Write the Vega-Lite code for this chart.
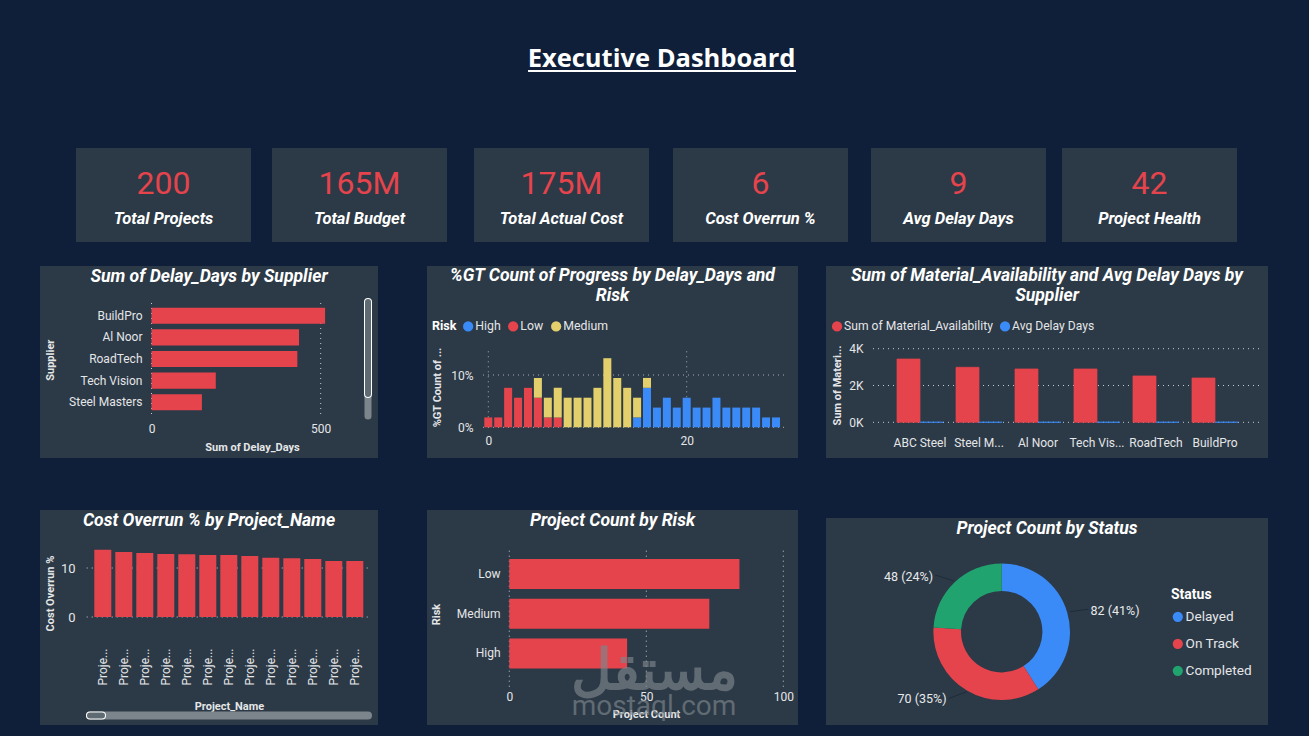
{
  "$schema": "https://vega.github.io/schema/vega-lite/v6.json",
  "background": "#0f1f3a",
  "padding": 0,
  "spacing": 0,
  "resolve": {"scale": {"color": "independent", "stroke": "independent"}},
  "config": {
    "view": {"stroke": null},
    "font": "Roboto",
    "title": {"color": "#ffffff", "font": "Roboto", "fontSize": 17.6, "fontWeight": "bold", "fontStyle": "italic", "anchor": "middle", "frame": "group", "lineHeight": 20},
    "axis": {"domain": false, "ticks": false, "grid": false, "labelColor": "#e4e6e8", "labelFont": "Roboto", "labelFontSize": 12, "labelFlush": false, "labelOverlap": false, "labelBound": false, "labelLimit": 200, "titleColor": "#e4e6e8", "titleFont": "Roboto", "titleFontSize": 11, "titleFontWeight": "bold", "titleBaseline": "middle", "titleAlign": "center", "titleLimit": 200},
    "legend": {"labelColor": "#e4e6e8", "labelFont": "Roboto", "labelFontSize": 12.3, "labelLimit": 300, "titleColor": "#ffffff", "titleFont": "Roboto", "titleFontSize": 12.5, "titleFontWeight": "bold", "symbolType": "circle", "symbolSize": 105, "symbolStrokeWidth": 0, "labelOffset": 1, "columnPadding": 6}
  },
  "vconcat": [
    {
      "width": 1309,
      "height": 148,
      "data": {"values": [{"Heading": "Executive Dashboard"}]},
      "layer": [
        {
          "mark": {"type": "text", "font": "Open Sans", "fontSize": 25.5, "fontWeight": "bold", "color": "#ffffff", "dx": 7, "dy": -15},
          "encoding": {"text": {"field": "Heading"}}
        },
        {
          "mark": {"type": "rule", "color": "#ffffff", "strokeWidth": 2},
          "encoding": {
            "x": {"datum": 0.4034, "scale": {"domain": [0, 1], "range": [0, 1309]}, "axis": null},
            "x2": {"datum": 0.6081},
            "y": {"datum": 0, "scale": {"domain": [0, 1], "range": [71, 71]}, "axis": null}
          }
        }
      ],
      "resolve": {"scale": {"x": "independent", "y": "independent"}}
    },
    {
      "spacing": 0,
      "hconcat": [
        {"width": 76, "height": 94, "data": {"values": [{"s": 1}]}, "mark": {"type": "point", "opacity": 0}},
        {
          "width": 175, "height": 94, "view": {"fill": "#2c3946"},
          "data": {"values": [{"Metric": "Total Projects", "Display": "200"}]},
          "layer": [
            {"mark": {"type": "text", "fontSize": 32, "color": "#e5444c", "dy": -11}, "encoding": {"text": {"field": "Display"}}},
            {"mark": {"type": "text", "fontSize": 16.5, "color": "#ffffff", "dy": 24, "fontWeight": "bold", "fontStyle": "italic"}, "encoding": {"text": {"field": "Metric"}}}
          ]
        },
        {"width": 21, "height": 94, "data": {"values": [{"s": 1}]}, "mark": {"type": "point", "opacity": 0}},
        {
          "width": 175, "height": 94, "view": {"fill": "#2c3946"},
          "data": {"values": [{"Metric": "Total Budget", "Display": "165M"}]},
          "layer": [
            {"mark": {"type": "text", "fontSize": 32, "color": "#e5444c", "dy": -11}, "encoding": {"text": {"field": "Display"}}},
            {"mark": {"type": "text", "fontSize": 16.5, "color": "#ffffff", "dy": 24, "fontWeight": "bold", "fontStyle": "italic"}, "encoding": {"text": {"field": "Metric"}}}
          ]
        },
        {"width": 27, "height": 94, "data": {"values": [{"s": 1}]}, "mark": {"type": "point", "opacity": 0}},
        {
          "width": 175, "height": 94, "view": {"fill": "#2c3946"},
          "data": {"values": [{"Metric": "Total Actual Cost", "Display": "175M"}]},
          "layer": [
            {"mark": {"type": "text", "fontSize": 32, "color": "#e5444c", "dy": -11}, "encoding": {"text": {"field": "Display"}}},
            {"mark": {"type": "text", "fontSize": 16.5, "color": "#ffffff", "dy": 24, "fontWeight": "bold", "fontStyle": "italic"}, "encoding": {"text": {"field": "Metric"}}}
          ]
        },
        {"width": 24, "height": 94, "data": {"values": [{"s": 1}]}, "mark": {"type": "point", "opacity": 0}},
        {
          "width": 175, "height": 94, "view": {"fill": "#2c3946"},
          "data": {"values": [{"Metric": "Cost Overrun %", "Display": "6"}]},
          "layer": [
            {"mark": {"type": "text", "fontSize": 32, "color": "#e5444c", "dy": -11}, "encoding": {"text": {"field": "Display"}}},
            {"mark": {"type": "text", "fontSize": 16.5, "color": "#ffffff", "dy": 24, "fontWeight": "bold", "fontStyle": "italic"}, "encoding": {"text": {"field": "Metric"}}}
          ]
        },
        {"width": 23, "height": 94, "data": {"values": [{"s": 1}]}, "mark": {"type": "point", "opacity": 0}},
        {
          "width": 175, "height": 94, "view": {"fill": "#2c3946"},
          "data": {"values": [{"Metric": "Avg Delay Days", "Display": "9"}]},
          "layer": [
            {"mark": {"type": "text", "fontSize": 32, "color": "#e5444c", "dy": -11}, "encoding": {"text": {"field": "Display"}}},
            {"mark": {"type": "text", "fontSize": 16.5, "color": "#ffffff", "dy": 24, "fontWeight": "bold", "fontStyle": "italic"}, "encoding": {"text": {"field": "Metric"}}}
          ]
        },
        {"width": 16, "height": 94, "data": {"values": [{"s": 1}]}, "mark": {"type": "point", "opacity": 0}},
        {
          "width": 175, "height": 94, "view": {"fill": "#2c3946"},
          "data": {"values": [{"Metric": "Project Health", "Display": "42"}]},
          "layer": [
            {"mark": {"type": "text", "fontSize": 32, "color": "#e5444c", "dy": -11}, "encoding": {"text": {"field": "Display"}}},
            {"mark": {"type": "text", "fontSize": 16.5, "color": "#ffffff", "dy": 24, "fontWeight": "bold", "fontStyle": "italic"}, "encoding": {"text": {"field": "Metric"}}}
          ]
        }
      ]
    },
    {"width": 10, "height": 24, "data": {"values": [{"s": 1}]}, "mark": {"type": "point", "opacity": 0}},
    {
      "spacing": 0,
      "resolve": {"scale": {"color": "independent", "stroke": "independent"}},
      "hconcat": [
        {"width": 40, "height": 192, "data": {"values": [{"s": 1}]}, "mark": {"type": "point", "opacity": 0}},
        {
          "width": 338, "height": 192, "view": {"fill": "#2c3946"},
          "title": {"text": "Sum of Delay_Days by Supplier", "offset": -20},
          "layer": [
            {
              "data": {"values": [{"tick": 0}, {"tick": 500}]},
              "mark": {"type": "rule", "color": "#c8ccd0", "strokeDash": [1, 4]},
              "encoding": {
                "x": {"field": "tick", "type": "quantitative", "scale": {"domain": [0, 500], "range": [111.5, 280.7], "nice": false}, "axis": null},
                "y": {"datum": 0, "scale": {"domain": [0, 1], "range": [148, 34]}, "axis": null},
                "y2": {"datum": 1}
              }
            },
            {
              "data": {"values": [
                {"Supplier": "BuildPro", "Delay_Days": 513},
                {"Supplier": "Al Noor", "Delay_Days": 436},
                {"Supplier": "RoadTech", "Delay_Days": 431},
                {"Supplier": "Tech Vision", "Delay_Days": 190},
                {"Supplier": "Steel Masters", "Delay_Days": 149}
              ]},
              "mark": {"type": "bar", "color": "#e5444c"},
              "encoding": {
                "x": {"field": "Delay_Days", "type": "quantitative", "scale": {"domain": [0, 500], "range": [111.5, 280.7], "nice": false},
                  "axis": {"values": [0, 500], "offset": -44, "labelPadding": 9, "title": "Sum of Delay_Days", "titleX": 212, "titleY": 33}},
                "y": {"field": "Supplier", "type": "nominal", "sort": null, "scale": {"range": [39.5, 146.5], "paddingInner": 0.25, "paddingOuter": 0.1},
                  "axis": {"offset": -104, "labelPadding": 2, "title": "Supplier", "titleX": -93.3, "titleY": 93.7}}
              }
            },
            {
              "data": {"values": [{"part": "track"}]},
              "mark": {"type": "rule", "color": "#7c858c", "strokeWidth": 7, "strokeCap": "round"},
              "encoding": {
                "x": {"datum": 0, "scale": {"domain": [0, 1], "range": [328, 328]}, "axis": null},
                "y": {"datum": 0, "scale": {"domain": [0, 1], "range": [150, 36]}, "axis": null},
                "y2": {"datum": 1}
              }
            },
            {
              "data": {"values": [{"part": "thumb edge"}]},
              "mark": {"type": "rule", "color": "#ffffff", "strokeWidth": 8, "strokeCap": "round"},
              "encoding": {
                "x": {"datum": 0, "scale": {"domain": [0, 1], "range": [328, 328]}, "axis": null},
                "y": {"datum": 0, "scale": {"domain": [0, 1], "range": [128, 36]}, "axis": null},
                "y2": {"datum": 1}
              }
            },
            {
              "data": {"values": [{"part": "thumb"}]},
              "mark": {"type": "rule", "color": "#5f6b72", "strokeWidth": 6, "strokeCap": "round"},
              "encoding": {
                "x": {"datum": 0, "scale": {"domain": [0, 1], "range": [328, 328]}, "axis": null},
                "y": {"datum": 0, "scale": {"domain": [0, 1], "range": [128, 36]}, "axis": null},
                "y2": {"datum": 1}
              }
            }
          ],
          "resolve": {"scale": {"x": "independent", "y": "independent"}}
        },
        {"width": 49, "height": 192, "data": {"values": [{"s": 1}]}, "mark": {"type": "point", "opacity": 0}},
        {
          "width": 371, "height": 192, "view": {"fill": "#2c3946"},
          "title": {"text": ["%GT Count of Progress by Delay_Days and", "Risk"], "offset": -39},
          "layer": [
            {
              "data": {"values": [{"tick": 0}, {"tick": 20}]},
              "mark": {"type": "rule", "color": "#aab0b6", "strokeDash": [1, 4]},
              "encoding": {
                "x": {"field": "tick", "type": "quantitative", "scale": {"domain": [0, 20], "range": [61.3, 259.7], "nice": false}, "axis": null},
                "y": {"datum": 0, "scale": {"domain": [0, 1], "range": [161.3, 84]}, "axis": null},
                "y2": {"datum": 1}
              }
            },
            {
              "data": {"values": [{"tick": 0}, {"tick": 10}]},
              "mark": {"type": "rule", "color": "#aab0b6", "strokeDash": [1, 4]},
              "encoding": {
                "y": {"field": "tick", "type": "quantitative", "scale": {"domain": [0, 10], "range": [161.3, 109], "nice": false}, "axis": null},
                "x": {"datum": 0, "scale": {"domain": [0, 1], "range": [56, 360]}, "axis": null},
                "x2": {"datum": 1}
              }
            },
            {
              "data": {"values": [
                {"Delay_Days": 0, "Risk": "Low", "Share": 1.89},
                {"Delay_Days": 1, "Risk": "Low", "Share": 1.89},
                {"Delay_Days": 2, "Risk": "Low", "Share": 7.55},
                {"Delay_Days": 3, "Risk": "Low", "Share": 5.66},
                {"Delay_Days": 4, "Risk": "Low", "Share": 7.55},
                {"Delay_Days": 5, "Risk": "Low", "Share": 5.66},
                {"Delay_Days": 5, "Risk": "Medium", "Share": 3.77},
                {"Delay_Days": 6, "Risk": "Low", "Share": 1.89},
                {"Delay_Days": 6, "Risk": "Medium", "Share": 3.77},
                {"Delay_Days": 7, "Risk": "Low", "Share": 1.89},
                {"Delay_Days": 7, "Risk": "Medium", "Share": 5.66},
                {"Delay_Days": 8, "Risk": "Medium", "Share": 5.66},
                {"Delay_Days": 9, "Risk": "Medium", "Share": 5.66},
                {"Delay_Days": 10, "Risk": "Medium", "Share": 5.66},
                {"Delay_Days": 11, "Risk": "Medium", "Share": 7.55},
                {"Delay_Days": 12, "Risk": "Medium", "Share": 13.21},
                {"Delay_Days": 13, "Risk": "Medium", "Share": 9.43},
                {"Delay_Days": 14, "Risk": "Medium", "Share": 7.55},
                {"Delay_Days": 15, "Risk": "High", "Share": 1.89},
                {"Delay_Days": 15, "Risk": "Medium", "Share": 3.77},
                {"Delay_Days": 16, "Risk": "High", "Share": 7.55},
                {"Delay_Days": 16, "Risk": "Medium", "Share": 1.89},
                {"Delay_Days": 17, "Risk": "High", "Share": 3.77},
                {"Delay_Days": 18, "Risk": "High", "Share": 5.66},
                {"Delay_Days": 19, "Risk": "High", "Share": 3.77},
                {"Delay_Days": 20, "Risk": "High", "Share": 5.66},
                {"Delay_Days": 21, "Risk": "High", "Share": 3.77},
                {"Delay_Days": 22, "Risk": "High", "Share": 3.77},
                {"Delay_Days": 23, "Risk": "High", "Share": 5.66},
                {"Delay_Days": 24, "Risk": "High", "Share": 3.77},
                {"Delay_Days": 25, "Risk": "High", "Share": 3.77},
                {"Delay_Days": 26, "Risk": "High", "Share": 3.77},
                {"Delay_Days": 27, "Risk": "High", "Share": 3.77},
                {"Delay_Days": 28, "Risk": "High", "Share": 1.89},
                {"Delay_Days": 29, "Risk": "High", "Share": 1.89}
              ]},
              "mark": {"type": "bar", "size": 8},
              "encoding": {
                "x": {"field": "Delay_Days", "type": "quantitative", "scale": {"domain": [0, 20], "range": [61.3, 259.7], "nice": false, "padding": 0},
                  "axis": {"values": [0, 20], "offset": -30.7, "labelPadding": 8, "title": null}},
                "y": {"field": "Share", "type": "quantitative", "stack": "zero", "scale": {"domain": [0, 10], "range": [161.3, 109], "nice": false},
                  "axis": {"values": [0, 10], "labelExpr": "datum.value + '%'", "offset": -48, "labelPadding": 2, "title": "%GT Count of ...", "titleX": -38, "titleY": 121}},
                "color": {"field": "Risk", "type": "nominal", "scale": {"domain": ["High", "Low", "Medium"], "range": ["#3a8bf8", "#e5444c", "#e3cf6b"]},
                  "legend": {"orient": "none", "legendX": 5, "legendY": 54, "direction": "horizontal", "titleOrient": "left", "title": "Risk"}},
                "order": {"field": "Risk", "sort": "ascending"}
              }
            }
          ],
          "resolve": {"scale": {"x": "independent", "y": "independent"}}
        },
        {"width": 28, "height": 192, "data": {"values": [{"s": 1}]}, "mark": {"type": "point", "opacity": 0}},
        {
          "width": 442, "height": 192, "view": {"fill": "#2c3946"},
          "title": {"text": ["Sum of Material_Availability and Avg Delay Days by", "Supplier"], "offset": -39},
          "layer": [
            {
              "data": {"values": [{"tick": 0}, {"tick": 2000}, {"tick": 4000}]},
              "mark": {"type": "rule", "color": "#c8ccd0", "strokeDash": [1, 4]},
              "encoding": {
                "y": {"field": "tick", "type": "quantitative", "scale": {"domain": [0, 4000], "range": [156.3, 82.7], "nice": false}, "axis": null},
                "x": {"datum": 0, "scale": {"domain": [0, 1], "range": [47, 434]}, "axis": null},
                "x2": {"datum": 1}
              }
            },
            {
              "data": {"values": [
                {"Supplier": "ABC Steel", "Series": "Sum of Material_Availability", "Amount": 3440},
                {"Supplier": "ABC Steel", "Series": "Avg Delay Days", "Amount": 10},
                {"Supplier": "Steel Masters", "Series": "Sum of Material_Availability", "Amount": 2990},
                {"Supplier": "Steel Masters", "Series": "Avg Delay Days", "Amount": 9},
                {"Supplier": "Al Noor", "Series": "Sum of Material_Availability", "Amount": 2900},
                {"Supplier": "Al Noor", "Series": "Avg Delay Days", "Amount": 10},
                {"Supplier": "Tech Vision", "Series": "Sum of Material_Availability", "Amount": 2900},
                {"Supplier": "Tech Vision", "Series": "Avg Delay Days", "Amount": 9},
                {"Supplier": "RoadTech", "Series": "Sum of Material_Availability", "Amount": 2520},
                {"Supplier": "RoadTech", "Series": "Avg Delay Days", "Amount": 10},
                {"Supplier": "BuildPro", "Series": "Sum of Material_Availability", "Amount": 2410},
                {"Supplier": "BuildPro", "Series": "Avg Delay Days", "Amount": 11}
              ]},
              "mark": {"type": "bar", "strokeWidth": 0.7},
              "encoding": {
                "x": {"field": "Supplier", "type": "nominal", "sort": null, "scale": {"range": [64.5, 418.5], "paddingInner": 0.22, "paddingOuter": 0.11},
                  "axis": {"offset": -35.7, "labelPadding": 15.5, "labelAngle": 0, "title": null,
                    "labelExpr": "datum.label == 'Steel Masters' ? 'Steel M...' : datum.label == 'Tech Vision' ? 'Tech Vis...' : datum.label"}},
                "xOffset": {"field": "Series", "sort": ["Sum of Material_Availability", "Avg Delay Days"]},
                "y": {"field": "Amount", "type": "quantitative", "scale": {"domain": [0, 4000], "range": [156.3, 82.7], "nice": false},
                  "axis": {"values": [0, 2000, 4000], "labelExpr": "(datum.value / 1000) + 'K'", "offset": -39, "labelPadding": 2, "title": "Sum of Materi...", "titleX": -28, "titleY": 119}},
                "color": {"field": "Series", "type": "nominal", "scale": {"domain": ["Sum of Material_Availability", "Avg Delay Days"], "range": ["#e5444c", "#3a8bf8"]},
                  "legend": {"orient": "none", "legendX": 5, "legendY": 54, "direction": "horizontal", "title": null, "labelFontSize": 12.1}},
                "stroke": {"field": "Series", "type": "nominal", "scale": {"domain": ["Sum of Material_Availability", "Avg Delay Days"], "range": ["#e5444c", "#3a8bf8"]}, "legend": null}
              }
            }
          ],
          "resolve": {"scale": {"x": "independent", "y": "independent"}}
        }
      ]
    },
    {"width": 10, "height": 52, "data": {"values": [{"s": 1}]}, "mark": {"type": "point", "opacity": 0}},
    {
      "spacing": 0,
      "resolve": {"scale": {"color": "independent", "stroke": "independent"}},
      "hconcat": [
        {"width": 40, "height": 215, "data": {"values": [{"s": 1}]}, "mark": {"type": "point", "opacity": 0}},
        {
          "width": 338, "height": 215, "view": {"fill": "#2c3946"},
          "title": {"text": "Cost Overrun % by Project_Name", "offset": -20},
          "layer": [
            {
              "data": {"values": [{"tick": 0}, {"tick": 10}]},
              "mark": {"type": "rule", "color": "#c8ccd0", "strokeDash": [1, 4]},
              "encoding": {
                "y": {"field": "tick", "type": "quantitative", "scale": {"domain": [0, 10], "range": [107, 58], "nice": false}, "axis": null},
                "x": {"datum": 0, "scale": {"domain": [0, 1], "range": [46.7, 330]}, "axis": null},
                "x2": {"datum": 1}
              }
            },
            {
              "data": {"values": [
                {"Project_Name": "Project 01", "Cost_Overrun": 13.74},
                {"Project_Name": "Project 02", "Cost_Overrun": 13.27},
                {"Project_Name": "Project 03", "Cost_Overrun": 13.06},
                {"Project_Name": "Project 04", "Cost_Overrun": 12.86},
                {"Project_Name": "Project 05", "Cost_Overrun": 12.8},
                {"Project_Name": "Project 06", "Cost_Overrun": 12.65},
                {"Project_Name": "Project 07", "Cost_Overrun": 12.65},
                {"Project_Name": "Project 08", "Cost_Overrun": 12.45},
                {"Project_Name": "Project 09", "Cost_Overrun": 12.1},
                {"Project_Name": "Project 10", "Cost_Overrun": 11.97},
                {"Project_Name": "Project 11", "Cost_Overrun": 11.84},
                {"Project_Name": "Project 12", "Cost_Overrun": 11.43},
                {"Project_Name": "Project 13", "Cost_Overrun": 11.43}
              ]},
              "mark": {"type": "bar", "color": "#e5444c"},
              "encoding": {
                "x": {"field": "Project_Name", "type": "nominal", "sort": null, "scale": {"range": [52.3, 325.3], "paddingInner": 0.19, "paddingOuter": 0.095},
                  "axis": {"offset": -108, "labelPadding": 31, "labelAngle": -90, "labelExpr": "slice(datum.label, 0, 5) + '...'", "title": "Project_Name", "titleX": 189, "titleY": 89.7}},
                "y": {"field": "Cost_Overrun", "type": "quantitative", "scale": {"domain": [0, 10], "range": [107, 58], "nice": false},
                  "axis": {"values": [0, 10], "offset": -37, "labelPadding": 2, "labelFontSize": 13, "title": "Cost Overrun %", "titleX": -26.3, "titleY": 83}}
              }
            },
            {
              "data": {"values": [{"part": "track"}]},
              "mark": {"type": "rule", "color": "#7c858c", "strokeWidth": 8, "strokeCap": "round"},
              "encoding": {
                "x": {"datum": 0, "scale": {"domain": [0, 1], "range": [50, 328]}, "axis": null},
                "x2": {"datum": 1},
                "y": {"datum": 0, "scale": {"domain": [0, 1], "range": [205.5, 205.5]}, "axis": null}
              }
            },
            {
              "data": {"values": [{"part": "thumb edge"}]},
              "mark": {"type": "rule", "color": "#ffffff", "strokeWidth": 8, "strokeCap": "round"},
              "encoding": {
                "x": {"datum": 0, "scale": {"domain": [0, 1], "range": [50, 62]}, "axis": null},
                "x2": {"datum": 1},
                "y": {"datum": 0, "scale": {"domain": [0, 1], "range": [205.5, 205.5]}, "axis": null}
              }
            },
            {
              "data": {"values": [{"part": "thumb"}]},
              "mark": {"type": "rule", "color": "#5f6b72", "strokeWidth": 6, "strokeCap": "round"},
              "encoding": {
                "x": {"datum": 0, "scale": {"domain": [0, 1], "range": [50, 62]}, "axis": null},
                "x2": {"datum": 1},
                "y": {"datum": 0, "scale": {"domain": [0, 1], "range": [205.5, 205.5]}, "axis": null}
              }
            }
          ],
          "resolve": {"scale": {"x": "independent", "y": "independent"}}
        },
        {"width": 49, "height": 215, "data": {"values": [{"s": 1}]}, "mark": {"type": "point", "opacity": 0}},
        {
          "width": 371, "height": 215, "view": {"fill": "#2c3946"},
          "title": {"text": "Project Count by Risk", "offset": -20},
          "layer": [
            {
              "data": {"values": [{"tick": 0}, {"tick": 50}, {"tick": 100}]},
              "mark": {"type": "rule", "color": "#c8ccd0", "strokeDash": [1, 4]},
              "encoding": {
                "x": {"field": "tick", "type": "quantitative", "scale": {"domain": [0, 100], "range": [82.3, 356.3], "nice": false}, "axis": null},
                "y": {"datum": 0, "scale": {"domain": [0, 1], "range": [176.7, 36.7]}, "axis": null},
                "y2": {"datum": 1}
              }
            },
            {
              "data": {"values": [
                {"Risk": "Low", "Project_Count": 84},
                {"Risk": "Medium", "Project_Count": 73},
                {"Risk": "High", "Project_Count": 43}
              ]},
              "mark": {"type": "bar", "color": "#e5444c"},
              "encoding": {
                "x": {"field": "Project_Count", "type": "quantitative", "scale": {"domain": [0, 100], "range": [82.3, 356.3], "nice": false},
                  "axis": {"values": [0, 50, 100], "offset": -38.3, "labelPadding": 5, "title": "Project Count", "titleX": 219, "titleY": 27.3}},
                "y": {"field": "Risk", "type": "nominal", "sort": null, "scale": {"range": [44.2, 163.2], "paddingInner": 0.245, "paddingOuter": 0.12},
                  "axis": {"offset": -75, "labelPadding": 2, "title": "Risk", "titleX": -65.3, "titleY": 104}}
              }
            },
            {
              "data": {"values": [{"Mark": "مستقل"}]},
              "mark": {"type": "text", "font": "Noto Sans", "fontWeight": "bold", "fontSize": 56, "color": "#7d868d", "opacity": 0.65},
              "encoding": {
                "text": {"field": "Mark"},
                "x": {"datum": 0.5, "scale": {"domain": [0, 1], "range": [0, 454]}, "axis": null},
                "y": {"datum": 0.5, "scale": {"domain": [0, 1], "range": [0, 324]}, "axis": null}
              }
            },
            {
              "data": {"values": [{"Mark": "mostaql.com"}]},
              "mark": {"type": "text", "font": "Roboto", "fontSize": 28, "color": "#7d868d", "opacity": 0.65},
              "encoding": {
                "text": {"field": "Mark"},
                "x": {"datum": 0.5, "scale": {"domain": [0, 1], "range": [0, 454]}, "axis": null},
                "y": {"datum": 0.5, "scale": {"domain": [0, 1], "range": [0, 394]}, "axis": null}
              }
            }
          ],
          "resolve": {"scale": {"x": "independent", "y": "independent"}}
        },
        {"width": 28, "height": 215, "data": {"values": [{"s": 1}]}, "mark": {"type": "point", "opacity": 0}},
        {
          "spacing": 0,
          "vconcat": [
            {"width": 442, "height": 8, "data": {"values": [{"s": 1}]}, "mark": {"type": "point", "opacity": 0}},
            {
              "width": 442, "height": 207, "view": {"fill": "#2c3946"},
              "title": {"text": "Project Count by Status", "offset": -20},
              "data": {"values": [
                {"Status": "Delayed", "Project_Count": 82, "Tag": "82 (41%)"},
                {"Status": "On Track", "Project_Count": 70, "Tag": "70 (35%)"},
                {"Status": "Completed", "Project_Count": 48, "Tag": "48 (24%)"}
              ]},
              "layer": [
                {
                  "mark": {"type": "arc", "innerRadius": 40.7, "outerRadius": 68.3},
                  "encoding": {
                    "theta": {"field": "Project_Count", "type": "quantitative", "stack": true},
                    "order": {"field": "Project_Count", "sort": "descending"},
                    "color": {"field": "Status", "type": "nominal", "scale": {"domain": ["Delayed", "On Track", "Completed"], "range": ["#3a8bf8", "#e5444c", "#20a36f"]},
                      "legend": {"orient": "none", "legendX": 345, "legendY": 78, "title": "Status", "titleFontSize": 14, "labelFontSize": 13.6, "rowPadding": 12, "titlePadding": 8}},
                    "x": {"datum": 0.5, "scale": {"domain": [0, 1], "range": [0, 351.4]}, "axis": null},
                    "y": {"datum": 0.5, "scale": {"domain": [0, 1], "range": [0, 227.4]}, "axis": null}
                  }
                },
                {
                  "mark": {"type": "text", "fontSize": 12.5, "color": "#e8eaec"},
                  "encoding": {
                    "text": {"field": "Tag"},
                    "x": {"field": "Project_Count", "type": "quantitative", "scale": {"domain": [48, 70, 82], "range": [82.5, 96, 289], "nice": false, "zero": false}, "axis": null},
                    "y": {"field": "Project_Count", "type": "quantitative", "scale": {"domain": [48, 70, 82], "range": [59, 180.7, 92.7], "nice": false, "zero": false}, "axis": null}
                  }
                },
                {
                  "data": {"values": [{"Status": "Delayed"}]},
                  "mark": {"type": "rule", "color": "#1e2b3a"},
                  "encoding": {
                    "x": {"datum": 0, "scale": {"domain": [0, 1], "range": [244, 262.3]}, "axis": null},
                    "x2": {"datum": 1},
                    "y": {"datum": 0, "scale": {"domain": [0, 1], "range": [93.7, 91.3]}, "axis": null},
                    "y2": {"datum": 1}
                  }
                },
                {
                  "data": {"values": [{"Status": "On Track"}]},
                  "mark": {"type": "rule", "color": "#1e2b3a"},
                  "encoding": {
                    "x": {"datum": 0, "scale": {"domain": [0, 1], "range": [122.3, 140.7]}, "axis": null},
                    "x2": {"datum": 1},
                    "y": {"datum": 0, "scale": {"domain": [0, 1], "range": [180.7, 173.7]}, "axis": null},
                    "y2": {"datum": 1}
                  }
                },
                {
                  "data": {"values": [{"Status": "Completed"}]},
                  "mark": {"type": "rule", "color": "#1e2b3a"},
                  "encoding": {
                    "x": {"datum": 0, "scale": {"domain": [0, 1], "range": [109, 127.3]}, "axis": null},
                    "x2": {"datum": 1},
                    "y": {"datum": 0, "scale": {"domain": [0, 1], "range": [57, 62.7]}, "axis": null},
                    "y2": {"datum": 1}
                  }
                }
              ],
              "resolve": {"scale": {"x": "independent", "y": "independent"}}
            }
          ]
        }
      ]
    },
    {"width": 10, "height": 11, "data": {"values": [{"s": 1}]}, "mark": {"type": "point", "opacity": 0}}
  ]
}
